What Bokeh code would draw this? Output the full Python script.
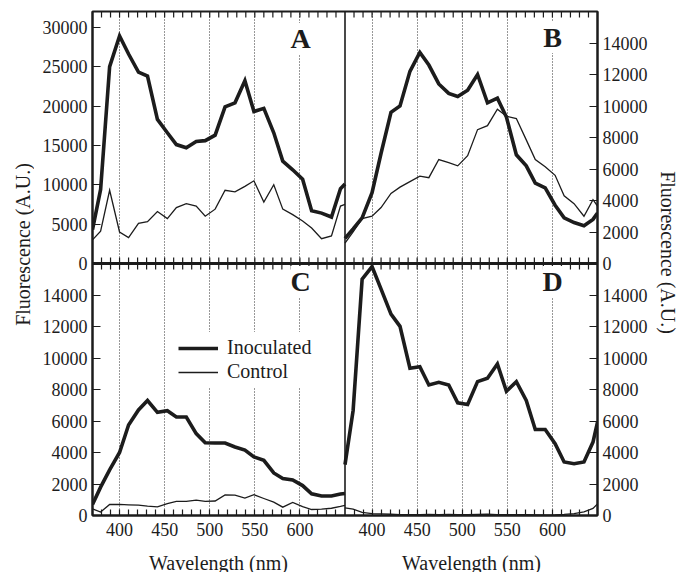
import math
from bokeh.plotting import figure
from bokeh.layouts import column, row
from bokeh.models import (Range1d, LinearAxis, FixedTicker, Span, Label, Legend,
                          LegendItem, Grid)
from bokeh.embed import file_html
from bokeh.resources import INLINE

# ---------------- data ----------------
wavelength = [370, 379, 389, 400, 410, 421, 431, 442, 453, 463, 474, 485, 495, 506,
              517, 528, 539, 549, 560, 571, 581, 592, 603, 613, 624, 635, 645, 650]

a_inoculated = [4300, 9400, 25000, 28900, 26600, 24300, 23800, 18300, 16600, 15100,
                14700, 15500, 15600, 16300, 19900, 20400, 23200, 19300, 19700, 16600,
                13000, 11900, 10700, 6700, 6400, 5900, 9500, 10100]
a_control = [3000, 4100, 9300, 4000, 3300, 5100, 5300, 6600, 5700, 7100,
             7600, 7300, 6000, 6900, 9300, 9100, 9800, 10500, 7800, 10000,
             6900, 6200, 5400, 4500, 3150, 3500, 7300, 7500]

b_inoculated = [1600, 2200, 2900, 4500, 7000, 9600, 10000, 12200, 13400, 12600,
                11400, 10800, 10600, 11000, 12000, 10200, 10500, 9300, 6900, 6200,
                5100, 4800, 3700, 2900, 2600, 2400, 2800, 3200]
b_control = [1300, 2000, 2850, 3000, 3550, 4450, 4850, 5200, 5550, 5450,
             6600, 6400, 6200, 6850, 8500, 8750, 9800, 9350, 9200, 7850,
             6600, 6150, 5600, 4300, 3800, 3000, 4050, 3650]

c_inoculated = [700, 1800, 2900, 4000, 5750, 6700, 7300, 6550, 6650, 6250,
                6250, 5200, 4620, 4600, 4600, 4350, 4150, 3720, 3500, 2700,
                2350, 2260, 1900, 1380, 1240, 1240, 1360, 1400]
c_control = [420, 220, 700, 700, 680, 660, 600, 550, 750, 900,
             900, 980, 900, 920, 1310, 1300, 1100, 1320, 1080, 850,
             530, 830, 560, 380, 400, 460, 580, 650]

d_inoculated = [3230, 6670, 15000, 15800, 14370, 12790, 12010, 9350, 9450, 8290,
                8460, 8290, 7150, 7050, 8500, 8720, 9620, 7890, 8500, 7300,
                5460, 5460, 4560, 3400, 3290, 3400, 4660, 5930]
d_control = [480, 400, 200, 120, 100, 80, 60, 50, 60, 70,
             60, 70, 60, 50, 70, 80, 60, 50, 60, 50,
             40, 30, 40, 70, 120, 230, 450, 740]

x_major = [400, 450, 500, 550, 600]
x_minor = [380, 390, 410, 420, 430, 440, 460, 470, 480, 490, 510, 520, 530, 540,
           560, 570, 580, 590, 610, 620, 630, 640]
y_ticks_a = [0, 5000, 10000, 15000, 20000, 25000, 30000]
y_ticks_bcd = [0, 2000, 4000, 6000, 8000, 10000, 12000, 14000]

series_labels = ["Inoculated", "Control"]
panel_letters = ["A", "B", "C", "D"]
x_title = "Wavelength (nm)"
y_title = "Fluorescence (A.U.)"

# ---------------- ranges ----------------
WL_LO, WL_HI = 370, 650
SPAN_X = WL_HI - WL_LO
A_MAX = 32000
BCD_MAX = 16000

FONT = "Liberation Serif"
INK = "#1c1c1c"

LEFT_W = 34      # strip holding the left y title
RIGHT_W = 29     # strip holding the right y title
BOTTOM_H = 27    # strip holding the x titles


def blank_figure(w, h, bl=0, br=0):
    f = figure(frame_width=w, frame_height=h,
               min_border_left=bl, min_border_right=br, min_border_top=0, min_border_bottom=0,
               x_range=Range1d(0, 1), y_range=Range1d(0, 1),
               x_axis_location=None, y_axis_location=None,
               output_backend="svg", toolbar_location=None)
    f.grid.visible = False
    f.outline_line_color = None
    f.background_fill_color = "white"
    f.border_fill_color = "white"
    return f


p = figure(frame_width=505, frame_height=504,
           min_border_left=92 - LEFT_W, min_border_right=52, min_border_top=11,
           min_border_bottom=30,
           x_range=Range1d(WL_LO, WL_HI + SPAN_X), y_range=Range1d(0, 2 * BCD_MAX),
           x_axis_location=None, y_axis_location=None,
           output_backend="svg", toolbar_location=None)
p.extra_x_ranges = {"R": Range1d(WL_LO - SPAN_X, WL_HI)}
p.extra_y_ranges = {"A": Range1d(-A_MAX, A_MAX), "B": Range1d(-BCD_MAX, BCD_MAX)}
p.grid.visible = False
p.background_fill_color = "white"
p.border_fill_color = "white"
p.outline_line_color = INK
p.outline_line_width = 2


def right_to_main(v):
    return v + SPAN_X


def a_to_main(v):
    return BCD_MAX + v * BCD_MAX / A_MAX


def b_to_main(v):
    return BCD_MAX + v


# ---------------- grid ----------------
xt_major = x_major + [right_to_main(t) for t in x_major]
xt_minor = x_minor + [right_to_main(t) for t in x_minor]
xt_all = xt_major + xt_minor
grid = Grid(dimension=0, ticker=FixedTicker(ticks=xt_major), grid_line_color=INK,
            grid_line_dash="1 2", grid_line_width=1, grid_line_alpha=0.9)
p.add_layout(grid)

# ---------------- lines ----------------
thick = dict(line_color=INK, line_width=3.6, line_join="miter")
thin = dict(line_color=INK, line_width=1.3, line_join="miter")

p.line(wavelength, a_control, y_range_name="A", **thin)
p.line(wavelength, a_inoculated, y_range_name="A", **thick)
p.line(wavelength, b_control, x_range_name="R", y_range_name="B", **thin)
p.line(wavelength, b_inoculated, x_range_name="R", y_range_name="B", **thick)
r_c_ctrl = p.line(wavelength, c_control, **thin)
r_c_inoc = p.line(wavelength, c_inoculated, **thick)
p.line(wavelength, d_control, x_range_name="R", **thin)
p.line(wavelength, d_inoculated, x_range_name="R", **thick)

# ---------------- panel dividers ----------------
p.add_layout(Span(location=BCD_MAX, dimension="width", line_color=INK, line_width=3))
p.add_layout(Span(location=WL_HI, dimension="height", line_color=INK, line_width=1.6))
# inward ticks on both sides of the horizontal divider and under the top edge
p.scatter(xt_all, [BCD_MAX] * len(xt_all),
          marker="dash", angle=math.pi / 2, size=12, line_color=INK, line_width=1.2)
p.scatter(xt_all, [2 * BCD_MAX] * len(xt_all),
          marker="dash", angle=math.pi / 2, size=12, line_color=INK, line_width=1.2)


# ---------------- axes ----------------
def style_axis(ax, tick_len):
    ax.axis_line_color = INK
    ax.axis_line_width = 2
    ax.major_tick_in = tick_len
    ax.major_tick_out = 0
    ax.minor_tick_in = 6
    ax.minor_tick_out = 0
    ax.major_tick_line_color = INK
    ax.minor_tick_line_color = INK
    ax.major_tick_line_width = 1.2
    ax.minor_tick_line_width = 1.2
    ax.major_label_text_font = FONT
    ax.major_label_text_font_size = "18px"
    ax.major_label_text_color = INK
    ax.major_label_standoff = 5


left_ticks = y_ticks_bcd + [a_to_main(v) for v in y_ticks_a]
left_texts = [str(v) for v in y_ticks_bcd] + [str(v) for v in y_ticks_a]
ax_left = LinearAxis(ticker=FixedTicker(ticks=left_ticks),
                     major_label_overrides=dict(zip(left_ticks, left_texts)))
style_axis(ax_left, 8)
p.add_layout(ax_left, "left")

right_ticks = y_ticks_bcd + [b_to_main(v) for v in y_ticks_bcd]
right_texts = [str(v) for v in y_ticks_bcd] * 2
ax_right = LinearAxis(ticker=FixedTicker(ticks=right_ticks),
                      major_label_overrides=dict(zip(right_ticks, right_texts)))
style_axis(ax_right, 8)
p.add_layout(ax_right, "right")

bottom_texts = [str(v) for v in x_major] * 2
ax_bottom = LinearAxis(ticker=FixedTicker(ticks=xt_major, minor_ticks=xt_minor),
                       major_label_overrides=dict(zip(xt_major, bottom_texts)))
style_axis(ax_bottom, 6)
ax_bottom.major_label_standoff = 7
p.add_layout(ax_bottom, "below")

# ---------------- panel letters ----------------
letter_style = dict(text_font=FONT, text_font_size="28px", text_font_style="bold",
                    text_color=INK, text_align="center", text_baseline="alphabetic",
                    background_fill_color="white", x_units="screen", y_units="screen")
p.add_layout(Label(x=208, y=477, text=panel_letters[0], **letter_style))
p.add_layout(Label(x=460, y=478, text=panel_letters[1], **letter_style))
p.add_layout(Label(x=208, y=234, text=panel_letters[2], **letter_style))
p.add_layout(Label(x=460, y=234, text=panel_letters[3], **letter_style))

# ---------------- legend ----------------
legend = Legend(items=[LegendItem(label=series_labels[0], renderers=[r_c_inoc]),
                       LegendItem(label=series_labels[1], renderers=[r_c_ctrl])],
                location=(82, 128), glyph_width=40, glyph_height=20, label_height=20,
                label_text_font=FONT, label_text_font_size="20px", label_text_color=INK,
                label_standoff=9, spacing=1, padding=4, margin=0,
                border_line_alpha=0, background_fill_color="white", background_fill_alpha=1)
p.add_layout(legend)

# ---------------- title strips ----------------
title_style = dict(text_font=FONT, text_font_size="20px", text_color=INK,
                   text_align="center", text_baseline="middle",
                   x_units="screen", y_units="screen")

bottom_strip = blank_figure(505, BOTTOM_H, bl=92 - LEFT_W, br=52)
bottom_strip.add_layout(Label(x=126, y=10, text=x_title, **title_style))
bottom_strip.add_layout(Label(x=379, y=10, text=x_title, **title_style))

left_strip = blank_figure(LEFT_W, 572)
left_strip.add_layout(Label(x=22, y=572 - 244, text=y_title, angle=math.pi / 2,
                            **title_style))

right_strip = blank_figure(RIGHT_W, 572)
right_strip.add_layout(Label(x=17, y=572 - 252, text=y_title, angle=-math.pi / 2,
                             **title_style))

layout = row(left_strip, column(p, bottom_strip, spacing=0), right_strip, spacing=0)
open("out.html", "w").write(file_html(layout, INLINE))
